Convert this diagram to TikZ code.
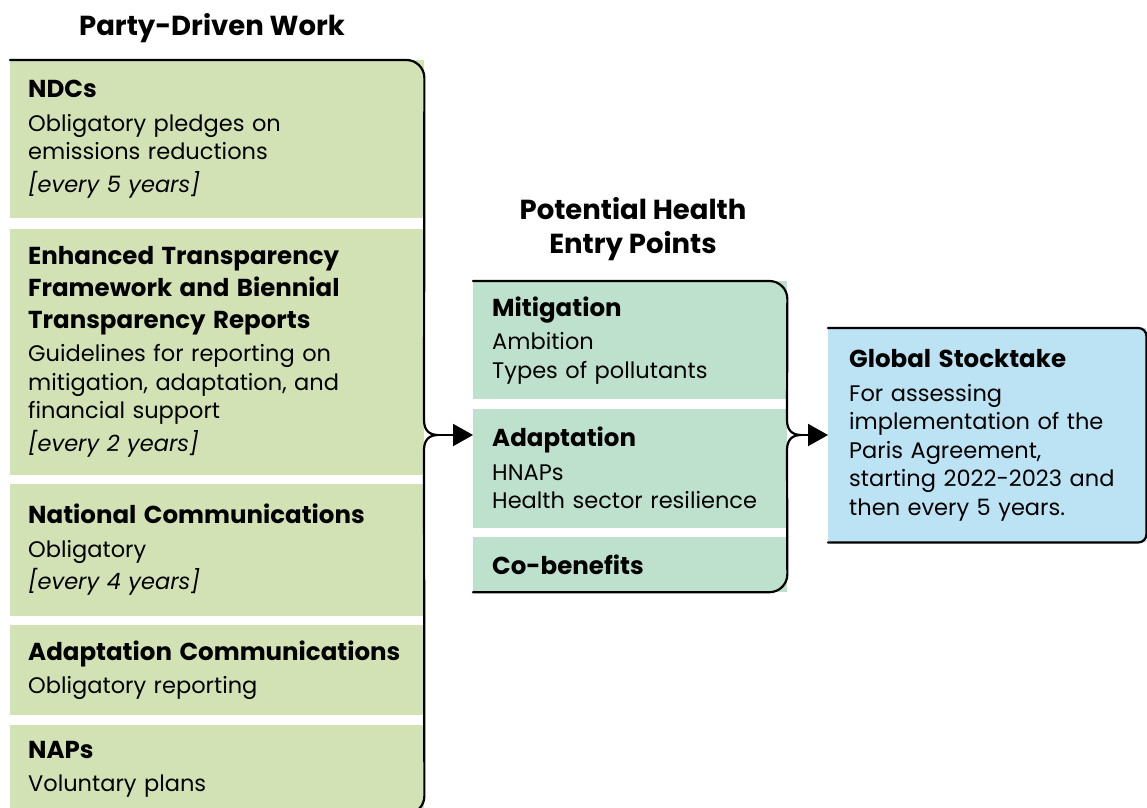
\documentclass[tikz,border=0pt]{standalone}
\usepackage{fontspec}
\setmainfont{Poppins}
\usetikzlibrary{positioning,arrows.meta}
\definecolor{partygreen}{RGB}{211,226,181}
\definecolor{entrygreen}{RGB}{190,225,205}
\definecolor{stockblue}{RGB}{187,227,244}
\newcommand{\hdfont}{\fontsize{24.5}{32}\selectfont\bfseries}
\newcommand{\boxhead}[1]{{\hdfont #1\par}\vspace{5pt}}
\newcommand{\boxnote}[1]{\par\vspace{4pt}\textit{#1}}
\tikzset{
	x=1pt, y=-1pt, % one unit is one pixel of the layout, y runs down
	node distance=9pt, % gap between stacked boxes
	infobox/.style={anchor=north west, inner ysep=0pt, align=left, font=\fontsize{22.5}{28.5}\selectfont}, % common look of all boxes
	partybox/.style={infobox, fill=partygreen, inner xsep=18pt, text width=378pt, minimum width=414pt},
	entrybox/.style={infobox, fill=entrygreen, inner xsep=19pt, text width=276pt, minimum width=314pt},
	stockbox/.style={infobox, fill=stockblue, inner xsep=21pt, text width=276pt, minimum width=318pt},
	heading/.style={align=center, font=\fontsize{27.5}{34}\selectfont\bfseries},
	bracket/.style={line width=2.2pt, line cap=round, line join=round},
	>={Triangle[length=20pt,width=22pt]}, % bold arrow heads
}
\begin{document}
\begin{tikzpicture}
	\useasboundingbox (0,0) rectangle (1147,807);
	\clip (0,0) rectangle (1147,807);
	
	\node[heading] (party) at (212,28) {Party-Driven Work};
	\node[partybox, minimum height=158pt] (ndc) at (10,60) {\boxhead{NDCs}Obligatory pledges on\\ emissions reductions\boxnote{[every 5 years]}};
	\node[partybox, minimum height=246pt, below=10pt of ndc] (etf) {\boxhead{Enhanced Transparency\\ Framework and Biennial\\ Transparency Reports}Guidelines for reporting on\\ mitigation, adaptation, and\\ financial support\boxnote{[every 2 years]}};
	\node[partybox, minimum height=132pt, below=of etf] (nc) {\boxhead{National Communications}Obligatory\boxnote{[every 4 years]}};
	\node[partybox, minimum height=90pt, below=of nc] (ac) {\boxhead{Adaptation Communications}Obligatory reporting};
	\node[partybox, minimum height=89pt, below=of ac] (nap) {\boxhead{NAPs}Voluntary plans};
	
	\node[heading] (entry) at (633,229) {Potential Health\\ Entry Points};
	\node[entrybox, minimum height=118pt] (mit) at (473,281) {\boxhead{Mitigation}Ambition\\ Types of pollutants};
	\node[entrybox, minimum height=119pt, below=of mit] (ada) {\boxhead{Adaptation}HNAPs\\ Health sector resilience};
	\node[entrybox, minimum height=55pt, below=of ada] (cob) {{\hdfont Co-benefits}};
	
	\node[stockbox, minimum height=214pt] (gst) at (828,328) {\boxhead{Global Stocktake}For assessing\\ implementation of the\\ Paris Agreement,\\ starting 2022-2023 and\\ then every 5 years.};
	
	% tips of the two brackets
	\coordinate (ptip) at (438,435);
	\coordinate (etip) at (801,435);
	
	\draw[bracket, rounded corners=18pt] (ndc.north west) -- (ndc.north east) -- (424,420);
	\draw[bracket] (424,420) .. controls (424,430) and (429,435) .. (ptip) .. controls (429,435) and (424,440) .. (424,450);
	\draw[bracket, rounded corners=18pt] (424,450) -- (nap.south east) -- (nap.south west);
	\draw[bracket, ->] (ptip) -- (ptip -| ada.west);
	
	\draw[bracket, rounded corners=18pt] (mit.north west) -- (mit.north east) -- (787,420);
	\draw[bracket] (787,420) .. controls (787,430) and (792,435) .. (etip) .. controls (792,435) and (787,440) .. (787,450);
	\draw[bracket, rounded corners=18pt] (787,450) -- (cob.south east) -- (cob.south west);
	\draw[bracket, ->] (etip) -- (etip -| gst.west);
	
	\draw[bracket, rounded corners=8pt] (gst.north west) -- (gst.north east) -- (gst.south east) -- (gst.south west);
\end{tikzpicture}
\end{document}
